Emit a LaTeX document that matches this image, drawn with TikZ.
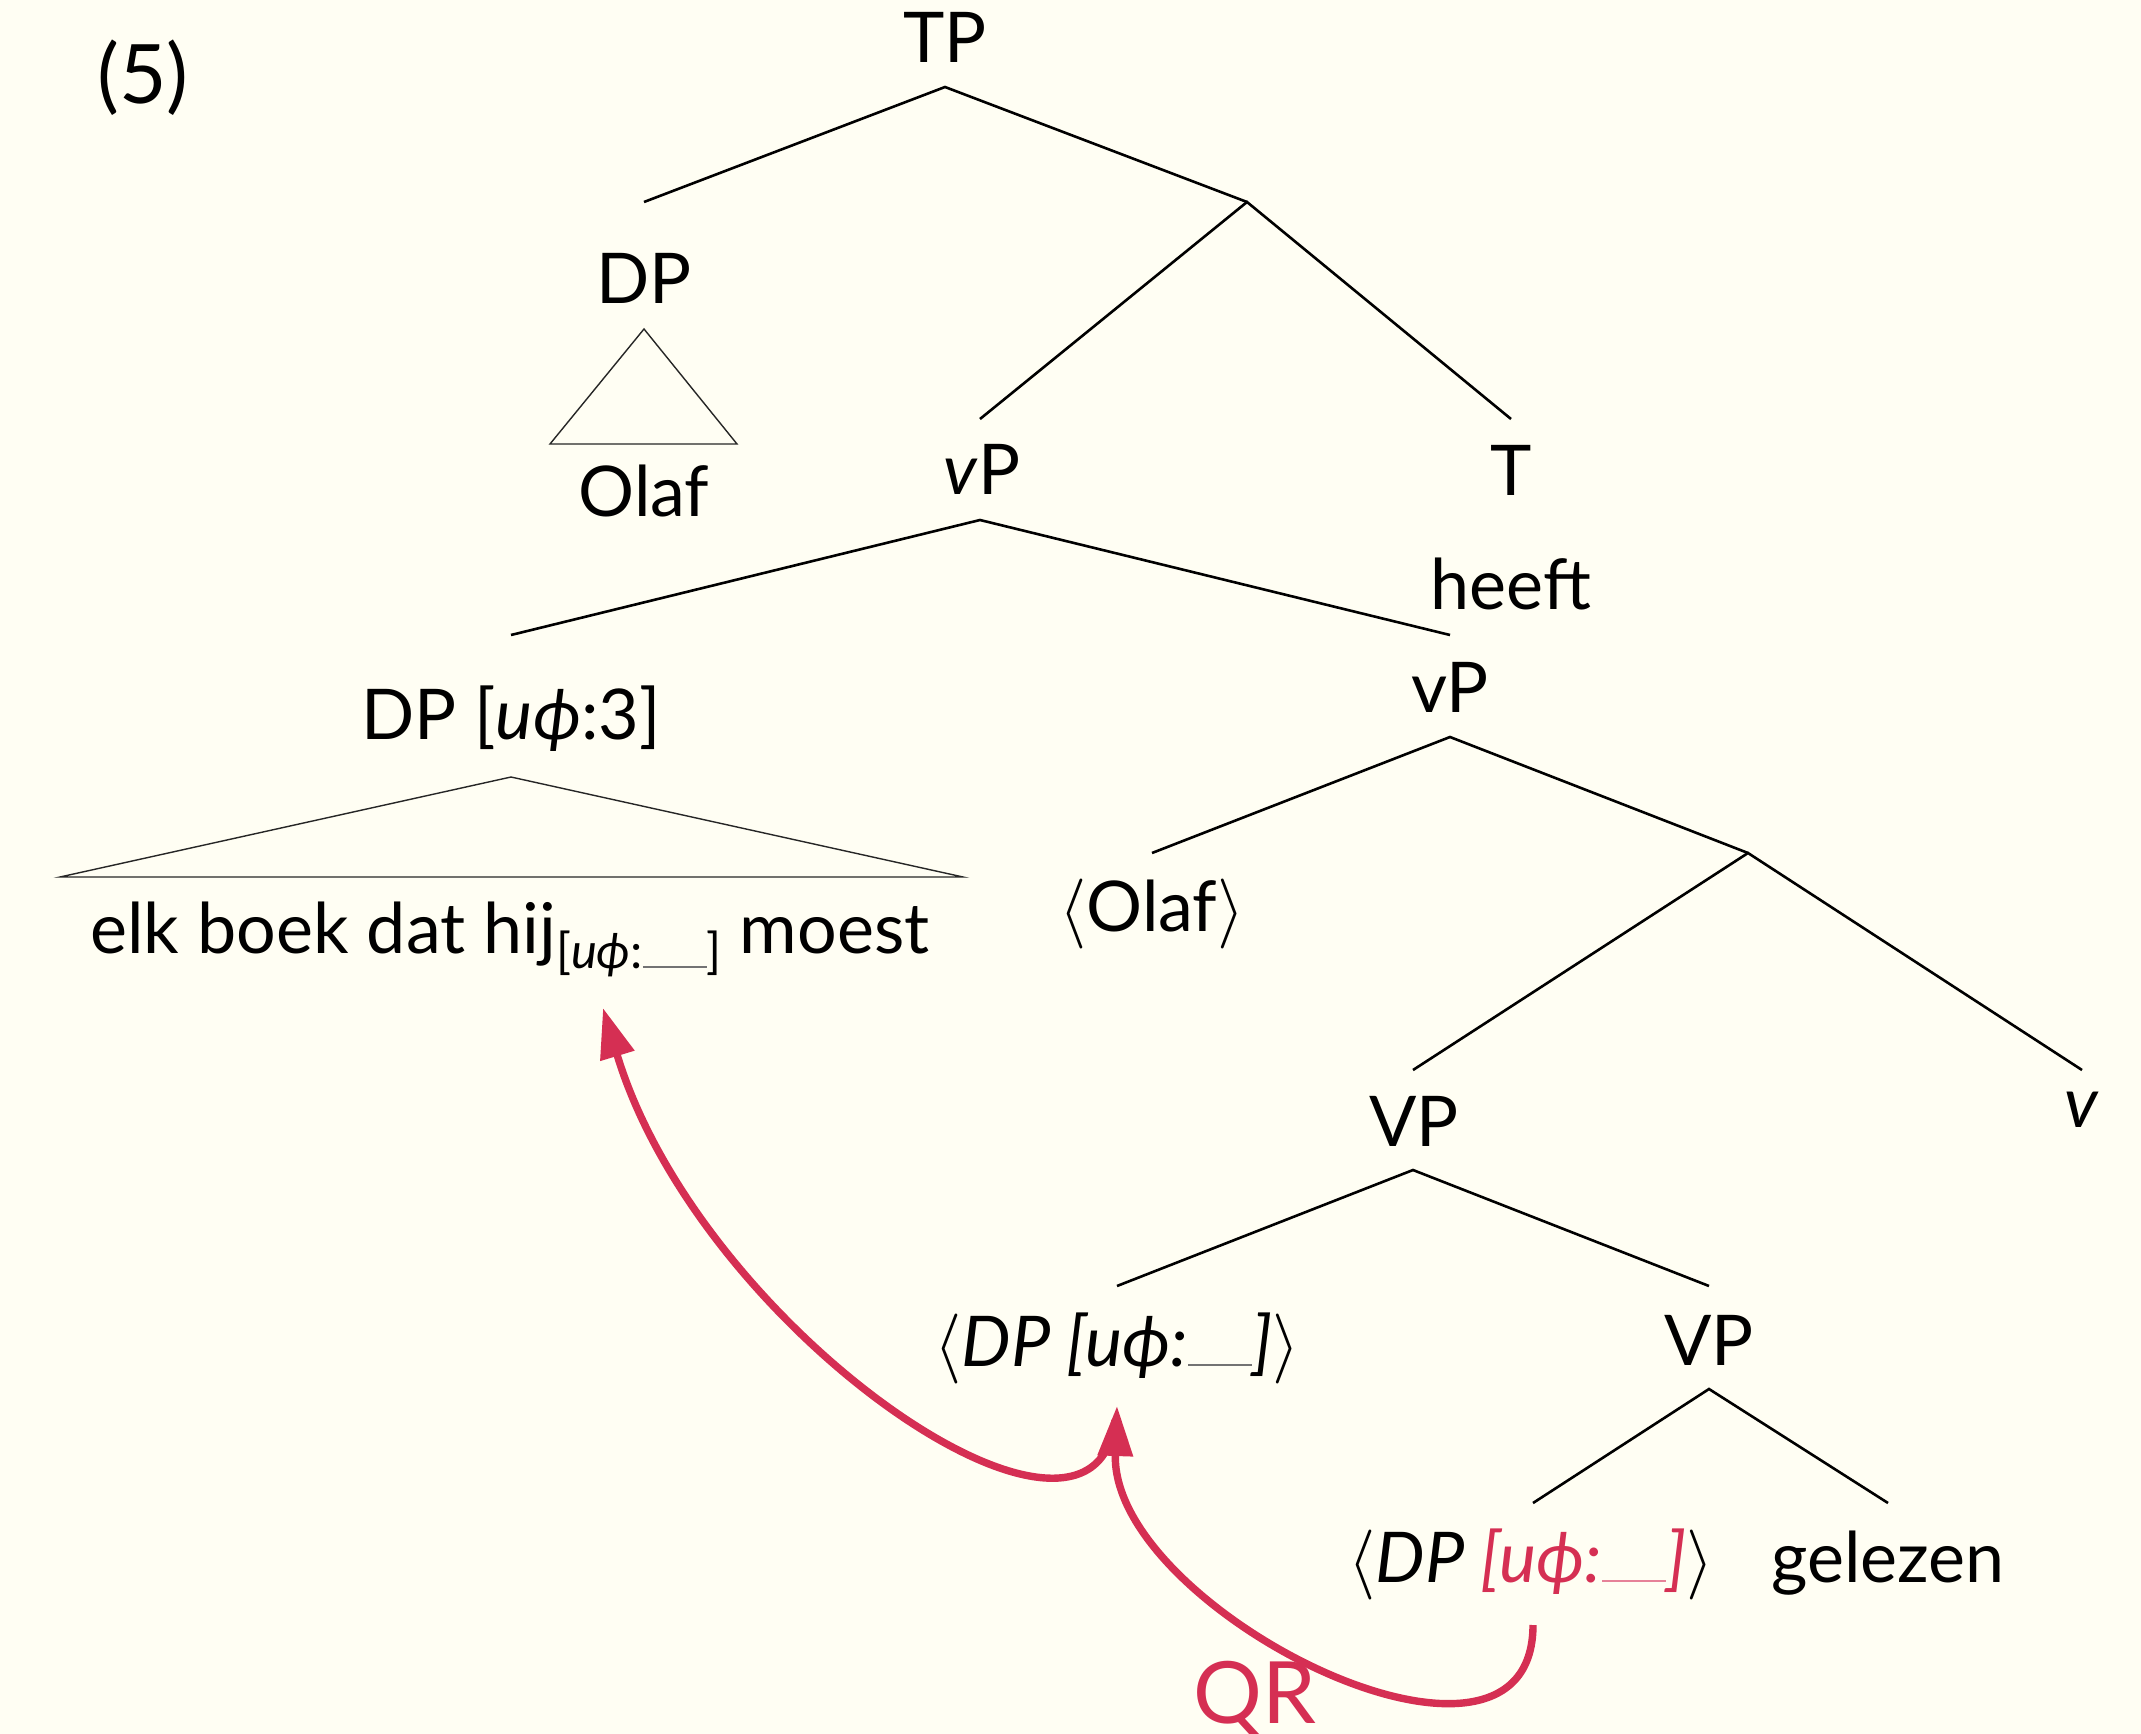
\documentclass[tikz,border=0pt]{standalone}
\usepackage{fix-cm}
\usepackage{fontspec}
\setmainfont{Lato}
\usetikzlibrary{arrows.meta}
\definecolor{bg}{RGB}{255,254,243}
\definecolor{qr}{RGB}{213,47,83}
\newcommand{\blankline}[1]{{\color{#1}\rule{32pt}{1pt}}}
\newcommand{\subsz}{\fontsize{24.5}{28}\selectfont}
\begin{document}
\begin{tikzpicture}[x=0.5pt,y=-0.5pt,
  every node/.style={inner sep=0pt, font=\fontsize{35}{40}\selectfont},
  lab/.style={anchor=base},
  branch/.style={line width=1.3pt, black},
  roof/.style={line width=0.7pt, black!85},
  move/.style={qr, line width=3.7pt, -{Triangle[length=25pt,width=17pt]}}]
\path[fill=bg,use as bounding box] (0,0) rectangle (2141,1734);

% labels
\node[lab, font=\fontsize{41}{46}\selectfont] (five) at (143,104) {(5)};
\node[lab] (TP) at (945,63) {TP};
\node[lab] (DP1) at (644,303) {DP};
\node[lab] (olaf) at (644,516) {Olaf};
\node[lab] (vP1) at (982,494) {\textit{v}P};
\node[lab] (T) at (1511,495) {T};
\node[lab] (heeft) at (1511,609) {heeft};
\node[lab] (DP2) at (511,739) {DP [\textit{uϕ}:3]};
\node[lab] (elk) at (510,953) {elk boek dat hij\raisebox{-7.5pt}{\subsz[\textit{uϕ}:\blankline{black!55}]} moest};
\node[lab] (vP2) at (1450,712) {vP};
\node[lab] (olaf2) at (1152,931) {$\langle$Olaf$\rangle$};
\node[lab] (VP1) at (1414,1146) {VP};
\node[lab] (v) at (2082,1127) {\textit{v}};
\node[lab] (DP3) at (1117,1366) {$\langle$\textit{DP [uϕ:\blankline{black!55}]}$\rangle$};
\node[lab] (VP2) at (1709,1365) {VP};
\node[lab] (DP4) at (1531,1582) {$\langle$\textit{DP \textcolor{qr}{[uϕ:\blankline{qr!60}]}}$\rangle$};
\node[lab] (gel) at (1888,1582) {gelezen};
\node[lab, text=qr, font=\fontsize{43}{48}\selectfont] (QR) at (1255,1723) {QR};

% branch points
\coordinate (TPs) at (945,87);
\coordinate (DP1n) at (644,202);
\coordinate (Tbar) at (1247,202);
\coordinate (vP1n) at (980,419);
\coordinate (Tn) at (1511,419);
\coordinate (r1t) at (644,329);
\coordinate (r1l) at (550,444);
\coordinate (r1r) at (737,444);
\coordinate (vP1s) at (980,520);
\coordinate (DP2n) at (511,635);
\coordinate (vP2n) at (1450,635);
\coordinate (r2t) at (511,777);
\coordinate (r2l) at (60,877);
\coordinate (r2r) at (963,877);
\coordinate (vP2s) at (1450,737);
\coordinate (olaf2n) at (1152,853);
\coordinate (vbar) at (1748,853);
\coordinate (VP1n) at (1413,1070);
\coordinate (vn) at (2082,1070);
\coordinate (VP1s) at (1413,1170);
\coordinate (DP3n) at (1117,1286);
\coordinate (VP2n) at (1709,1286);
\coordinate (VP2s) at (1709,1389);
\coordinate (DP4n) at (1533,1503);
\coordinate (geln) at (1888,1503);
\coordinate (DP4s) at (1533,1625);
\coordinate (DP3s) at (1117,1406);
\coordinate (DP3s2) at (1115,1420);
\coordinate (elks) at (603,1008);

% tree
\draw[branch] (DP1n) -- (TPs) -- (Tbar);
\draw[branch] (vP1n) -- (Tbar) -- (Tn);
\draw[roof] (r1t) -- (r1l) -- (r1r) -- cycle;
\draw[branch] (DP2n) -- (vP1s) -- (vP2n);
\draw[roof] (r2t) -- (r2l) -- (r2r) -- cycle;
\draw[branch] (olaf2n) -- (vP2s) -- (vbar);
\draw[branch] (VP1n) -- (vbar) -- (vn);
\draw[branch] (DP3n) -- (VP1s) -- (VP2n);
\draw[branch] (DP4n) -- (VP2s) -- (geln);

% movement arrows
\draw[move] (DP3s2) .. controls (1095,1600) and (700,1330) .. (elks);
\draw[move] (DP4s) .. controls (1533,1820) and (1110,1610) .. (DP3s);
\end{tikzpicture}
\end{document}
